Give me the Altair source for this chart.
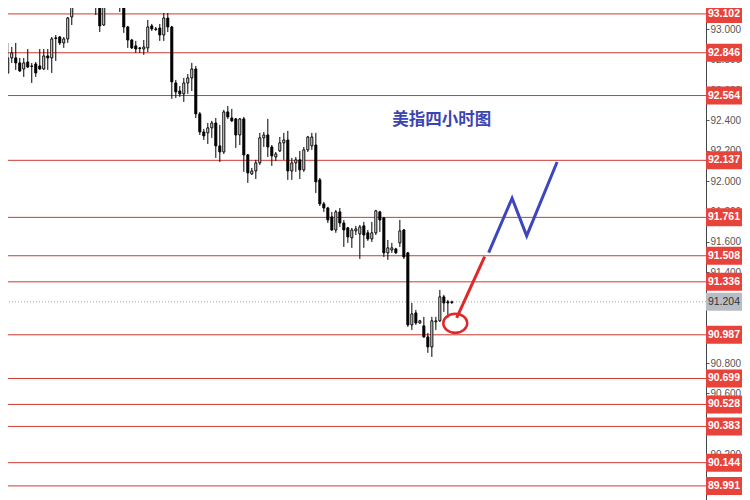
import altair as alt
import pandas as pd

# ---- 4h candles of the US dollar index ----
open_p = [92.713, 92.812, 92.812, 92.779, 92.739, 92.785, 92.759, 92.772, 92.759, 92.739,
          92.825, 92.812, 92.944, 92.950, 92.911, 92.937, 93.082, 93.207, 93.313, 93.392,
          93.359, 93.425, 93.326, 93.260, 93.029, 93.227, 93.293, 93.247, 93.293, 93.227,
          93.016, 92.930, 92.891, 92.878, 92.871, 92.878, 93.023, 93.003, 93.009, 92.963,
          93.075, 93.016, 92.647, 92.594, 92.575, 92.647, 92.680, 92.739, 92.443, 92.324,
          92.318, 92.351, 92.383, 92.232, 92.192, 92.456, 92.416, 92.410, 92.304, 92.410,
          92.173, 92.047, 92.067, 92.120, 92.285, 92.304, 92.225, 92.159, 92.199, 92.252,
          92.271, 92.067, 92.120, 92.140, 92.074, 92.206, 92.232, 92.238, 92.008, 91.850,
          91.823, 91.764, 91.678, 91.797, 91.724, 91.692, 91.626, 91.672, 91.652, 91.705,
          91.659, 91.619, 91.659, 91.797, 91.757, 91.527, 91.546, 91.553, 91.593, 91.678,
          91.527, 91.052, 91.131, 91.065, 91.046, 90.973, 90.907, 91.072, 91.079, 91.237,
          91.204, 91.200]
close_p = [92.812, 92.845, 92.779, 92.726, 92.779, 92.752, 92.756, 92.713, 92.739, 92.825,
           92.812, 92.937, 92.940, 92.911, 92.937, 93.075, 93.181, 93.313, 93.392, 93.359,
           93.425, 93.379, 93.227, 93.023, 93.227, 93.293, 93.247, 93.293, 93.227, 93.016,
           92.930, 92.878, 92.871, 92.874, 92.884, 93.016, 93.003, 93.000, 92.963, 93.075,
           93.016, 92.654, 92.588, 92.575, 92.647, 92.680, 92.739, 92.443, 92.324, 92.298,
           92.351, 92.383, 92.232, 92.192, 92.456, 92.423, 92.397, 92.304, 92.410, 92.173,
           92.054, 92.067, 92.120, 92.285, 92.304, 92.225, 92.166, 92.179, 92.252, 92.271,
           92.067, 92.120, 92.140, 92.074, 92.206, 92.291, 92.291, 91.995, 91.850, 91.823,
           91.744, 91.678, 91.797, 91.724, 91.678, 91.632, 91.678, 91.685, 91.698, 91.645,
           91.619, 91.659, 91.804, 91.744, 91.527, 91.560, 91.560, 91.527, 91.672, 91.500,
           91.052, 91.125, 91.065, 91.079, 90.973, 90.907, 91.079, 91.079, 91.237, 91.197,
           91.197, 91.204]
high_p = [92.911, 92.884, 92.911, 92.812, 92.812, 92.871, 92.779, 92.785, 92.871, 92.871,
          92.871, 92.950, 92.963, 92.957, 92.950, 93.082, 93.214, 93.359, 93.425, 93.458,
          93.491, 93.471, 93.392, 93.293, 93.260, 93.359, 93.359, 93.326, 93.339, 93.260,
          93.023, 92.937, 92.924, 92.884, 92.930, 93.062, 93.036, 93.016, 93.036, 93.108,
          93.108, 93.023, 92.667, 92.627, 92.680, 92.706, 92.779, 92.759, 92.456, 92.344,
          92.383, 92.397, 92.416, 92.370, 92.469, 92.495, 92.476, 92.416, 92.416, 92.423,
          92.179, 92.087, 92.140, 92.318, 92.324, 92.410, 92.238, 92.192, 92.291, 92.318,
          92.331, 92.153, 92.159, 92.199, 92.225, 92.298, 92.318, 92.318, 92.021, 91.863,
          91.830, 91.797, 91.810, 91.823, 91.744, 91.698, 91.692, 91.705, 91.711, 91.731,
          91.678, 91.731, 91.810, 91.804, 91.764, 91.612, 91.593, 91.560, 91.744, 91.685,
          91.533, 91.197, 91.151, 91.085, 91.105, 90.999, 91.105, 91.105, 91.283, 91.250,
          91.217, 91.212]
low_p = [92.706, 92.779, 92.733, 92.720, 92.687, 92.746, 92.647, 92.687, 92.733, 92.733,
         92.733, 92.713, 92.792, 92.897, 92.878, 92.911, 93.029, 93.174, 93.260, 93.326,
         93.326, 93.339, 93.095, 92.983, 93.023, 93.174, 93.174, 93.207, 93.115, 92.977,
         92.878, 92.871, 92.845, 92.845, 92.832, 92.851, 92.990, 92.990, 92.924, 92.924,
         92.983, 92.542, 92.548, 92.555, 92.522, 92.575, 92.594, 92.416, 92.304, 92.271,
         92.245, 92.285, 92.153, 92.126, 92.179, 92.410, 92.390, 92.219, 92.238, 92.061,
         91.988, 92.041, 92.014, 92.107, 92.225, 92.159, 92.100, 92.133, 92.192, 92.140,
         92.008, 92.008, 92.061, 92.014, 92.061, 92.192, 92.206, 91.922, 91.836, 91.797,
         91.724, 91.672, 91.659, 91.698, 91.566, 91.593, 91.560, 91.645, 91.487, 91.560,
         91.606, 91.599, 91.645, 91.665, 91.500, 91.481, 91.527, 91.520, 91.566, 91.487,
         91.039, 91.019, 91.052, 91.059, 90.967, 90.868, 90.841, 91.019, 91.072, 91.138,
         91.098, 91.190]
bar_index = list(range(len(open_p)))

# ---- horizontal levels and price labels ----
levels = [93.102, 92.846, 92.564, 92.137, 91.761, 91.508, 91.336,
          90.987, 90.699, 90.528, 90.383, 90.144, 89.991]
last_price = [91.204]
axis_ticks = [90.0, 90.2, 90.4, 90.6, 90.8, 91.0, 91.2, 91.4, 91.6, 91.8,
              92.0, 92.2, 92.4, 92.6, 92.8, 93.0]

# ---- projected path (bar index, price) ----
red_path_x = [112.2, 119.2]
red_path_y = [91.098, 91.502]
blue_path_x = [120.2, 126.05, 129.7, 137.3]
blue_path_y = [91.529, 91.887, 91.639, 92.126]
circle_x = [111.85]
circle_y = [91.063]

title_text = ["美指四小时图"]
title_x = [96.1]
title_y = [92.40]

x_domain = [1.31, 173.27]
y_domain = [89.898, 93.141]

# ---- tables ----
candles = pd.DataFrame({"i": bar_index, "o": open_p, "h": high_p, "l": low_p, "c": close_p})
lv = pd.DataFrame({"v": levels, "lab": [f"{v:.3f}" for v in levels]})
lp = pd.DataFrame({"v": last_price, "lab": [f"{v:.3f}" for v in last_price]})
red_df = pd.DataFrame({"x": red_path_x, "y": red_path_y})
blue_df = pd.DataFrame({"x": blue_path_x, "y": blue_path_y})
circ_df = pd.DataFrame({"x": circle_x, "y": circle_y})
title_df = pd.DataFrame({"x": title_x, "y": title_y, "t": title_text})

xs = alt.Scale(domain=x_domain, nice=False, zero=False)
ys = alt.Scale(domain=y_domain, nice=False, zero=False)
yaxis = alt.Axis(orient="right", values=axis_ticks, format=".3f", title=None, grid=False,
                 labelFontSize=10, labelColor="#555555", labelFont="Liberation Sans",
                 tickColor="#555555", tickSize=3, domainColor="#444444",
                 labelPadding=1, labelOverlap=False, zindex=0)


def Y(field):
    return alt.Y(field, scale=ys, axis=yaxis)


def X(field):
    return alt.X(field, scale=xs, axis=None)


level_rules = alt.Chart(lv).mark_rule(color="#cc3b33", strokeWidth=1).encode(y=Y("v:Q"))
last_rule = alt.Chart(lp).mark_rule(color="#a0a0a0", strokeWidth=1, strokeDash=[1, 2]).encode(y=Y("v:Q"))

wicks = alt.Chart(candles).mark_rule(color="black", strokeWidth=1, clip=True).encode(
    x=X("i:Q"), y=Y("l:Q"), y2="h:Q")
bodies = alt.Chart(candles).mark_bar(size=2, stroke="black", strokeWidth=1, clip=True).encode(
    x=X("i:Q"), y=Y("o:Q"), y2="c:Q",
    fill=alt.condition("datum.c >= datum.o", alt.value("white"), alt.value("black")))

red_line = alt.Chart(red_df).mark_line(color="#e0282a", strokeWidth=3).encode(x=X("x:Q"), y=Y("y:Q"))
blue_line = alt.Chart(blue_df).mark_line(color="#3d46bd", strokeWidth=3).encode(x=X("x:Q"), y=Y("y:Q"))
ellipse = alt.Chart(circ_df).mark_point(
    shape="M-1,0A1,0.8,0,1,0,1,0A1,0.8,0,1,0,-1,0Z", size=576, filled=False,
    stroke="#e0282a", strokeWidth=2.5, opacity=1).encode(x=X("x:Q"), y=Y("y:Q"))

title = alt.Chart(title_df).mark_text(
    align="left", baseline="middle", font="Noto Sans CJK SC", fontSize=16.5,
    fontWeight="bold", color="#3b45b0").encode(x=X("x:Q"), y=Y("y:Q"), text="t:N")

box_shape = "M-1,-0.5L1,-0.5L1,0.5L-1,0.5Z"
level_boxes = alt.Chart(lv).mark_point(shape=box_shape, size=1296, filled=True, fill="#e8433a",
                                       opacity=1, strokeWidth=0).encode(x=alt.value(716), y=Y("v:Q"))
level_text = alt.Chart(lv).mark_text(align="center", baseline="middle", fontSize=10.5, fontWeight="bold",
                                     font="Liberation Sans", color="white").encode(
    x=alt.value(716), y=Y("v:Q"), text="lab:N")
last_box = alt.Chart(lp).mark_point(shape=box_shape, size=1296, filled=True, fill="#b8bcc4",
                                    opacity=1, strokeWidth=0).encode(x=alt.value(716), y=Y("v:Q"))
last_text = alt.Chart(lp).mark_text(align="center", baseline="middle", fontSize=10.5,
                                    font="Liberation Sans", color="#333333").encode(
    x=alt.value(716), y=Y("v:Q"), text="lab:N")

chart = alt.layer(
    level_rules, last_rule, wicks, bodies, red_line, blue_line, ellipse, title,
    level_boxes, level_text, last_box, last_text
).properties(
    width=698, height=492,
    autosize=alt.AutoSizeParams(type="none"),
    padding={"left": 0, "top": 0, "right": 36, "bottom": 0},
    background="white"
).configure_view(stroke=None)

chart.save("out.html", embed_options={"renderer": "svg", "actions": False})
